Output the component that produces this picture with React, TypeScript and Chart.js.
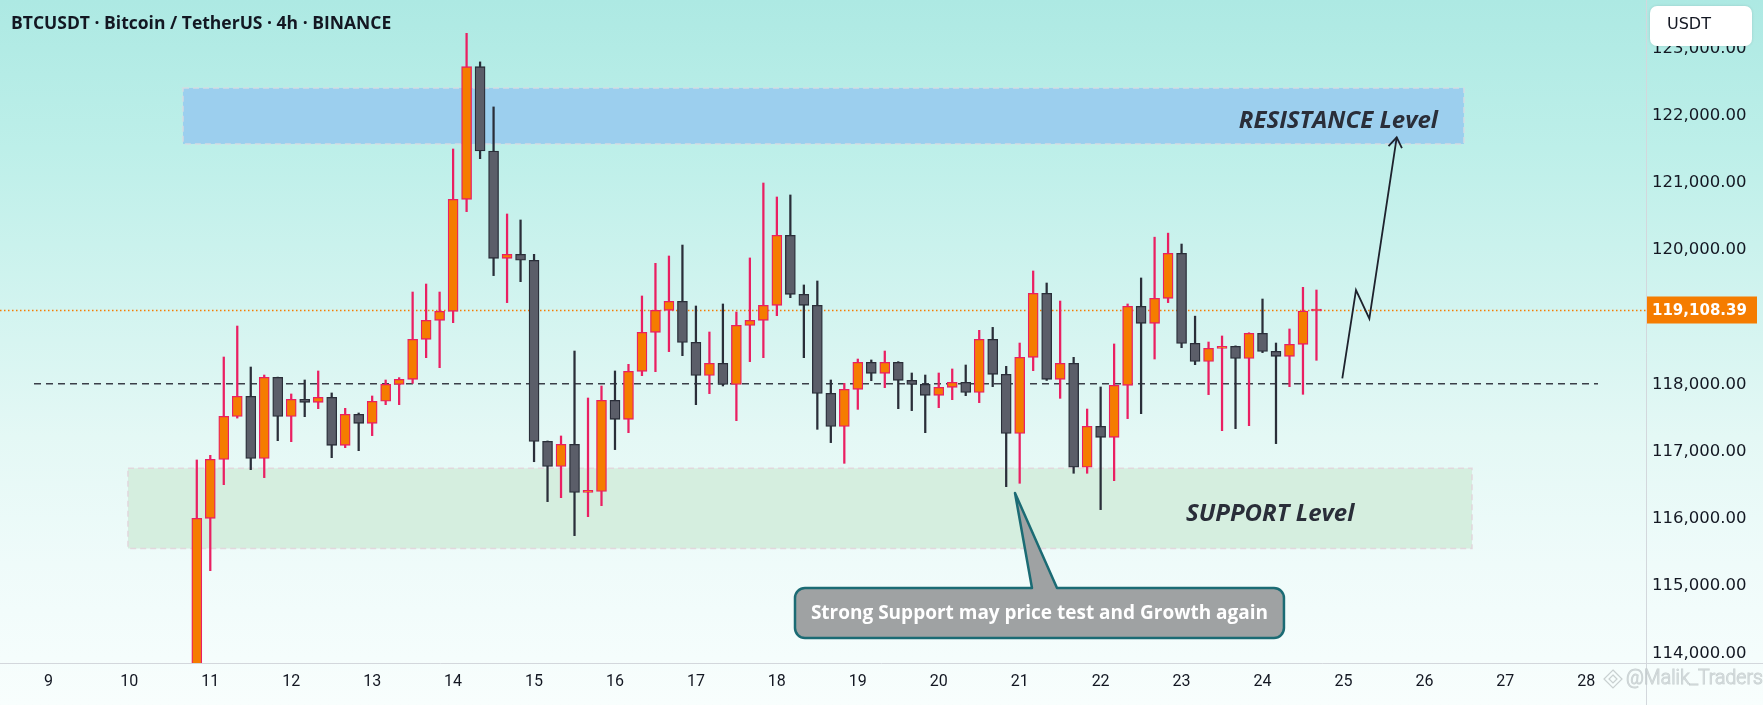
import React, { useEffect, useRef } from 'react';
import { Chart, registerables } from 'chart.js';

Chart.register(...registerables);

// ---- candle timing (4h candles starting 10th 20:00) ----
const START_DAY = 10;
const START_HOUR = 20;
const STEP_HOURS = 4;

// ---- OHLC values (USDT) ----
const opens = [
  113400, 116009, 116886, 117526, 117824, 116901, 118107, 117526, 117779, 117735,
  117809, 117095, 117556, 117422, 117750, 118002, 118077, 118672, 118955, 119089,
  120755, 122729, 121474, 119877, 119937, 119848, 117154, 116780, 117110, 116395,
  116410, 117764, 117482, 118196, 118776, 119104, 119238, 118627, 118136, 118315,
  118002, 118880, 118955, 119178, 120220, 119342, 119178, 117868, 117377, 117928,
  118330, 118166, 118330, 118062, 118002, 117839, 117958, 118032, 117883, 118672,
  118151, 117273, 118404, 119357, 118077, 118315, 116768, 117378, 117214, 117988,
  119163, 118910, 119282, 119951, 118612, 118344, 118538, 118568, 118389, 118761,
  118493, 118419, 118598, 119094,
];
const highs = [
  116877, 116946, 118409, 118870, 118260, 118141, 118110, 117859, 118067, 118201,
  117874, 117645, 117576, 117829, 118067, 118102, 119376, 119495, 119376, 121504,
  123225, 122800, 122130, 120537, 120448, 119937, 117160, 117234, 118498, 117799,
  117978, 118201, 118300, 119317, 119803, 119912, 120075, 119168, 118781, 119198,
  119079, 119883, 120998, 120790, 120820, 119481, 119540, 118067, 118017, 118379,
  118365, 118498, 118340, 118171, 118141, 118171, 118231, 118290, 118806, 118850,
  118270, 118617, 119689, 119510, 119242, 118404, 117635, 117963, 118603, 119198,
  119585, 120192, 120252, 120090, 119017, 118632, 118722, 118575, 118770, 119272,
  118617, 118826, 119446, 119406,
];
const lows = [
  113300, 115230, 116509, 117500, 116733, 116614, 117164, 117149, 117521, 117640,
  116911, 117060, 117015, 117239, 117700, 117700, 118017, 118399, 118250, 118920,
  120572, 121360, 119620, 119218, 119530, 116851, 116257, 116316, 115751, 116033,
  116197, 117031, 117283, 118131, 118191, 118489, 118429, 117700, 117864, 117978,
  117462, 118340, 118399, 119024, 119292, 118399, 117333, 117135, 116827, 117630,
  118057, 117953, 117640, 117611, 117283, 117655, 117774, 117834, 117730, 117968,
  116480, 116530, 118206, 118060, 117794, 116679, 116679, 116138, 116569, 117492,
  117566, 118379, 119218, 118548, 118295, 117849, 117313, 117343, 117387, 118474,
  117120, 117968, 117854, 118360,
];
const closes = [
  116009, 116886, 117526, 117824, 116901, 118107, 117526, 117779, 117735, 117809,
  117095, 117556, 117422, 117750, 118002, 118077, 118672, 118955, 119089, 120755,
  122729, 121474, 119877, 119937, 119848, 117154, 116780, 117110, 116395, 116410,
  117764, 117482, 118196, 118776, 119104, 119238, 118627, 118136, 118315, 118002,
  118880, 118955, 119178, 120220, 119342, 119178, 117868, 117377, 117928, 118330,
  118166, 118330, 118062, 118002, 117839, 117958, 118032, 117883, 118672, 118151,
  117273, 118404, 119357, 118077, 118315, 116768, 117378, 117214, 117988, 119163,
  118910, 119282, 119951, 118612, 118344, 118538, 118560, 118389, 118761, 118493,
  118419, 118598, 119094, 119108.39,
];

// ---- axes ----
const dayTicks = [9, 10, 11, 12, 13, 14, 15, 16, 17, 18, 19, 20, 21, 22, 23, 24, 25, 26, 27, 28];
const priceTicks = [114000, 115000, 116000, 117000, 118000, 120000, 121000, 122000, 123000];
const xRange = [8.402, 28.738];
const yRange = [113856, 123721];
const lastPrice = 119108.39;

// ---- annotations (time in days, price in USDT) ----
const resistanceZone = [10.663, 26.489, 121579, 122412];
const supportZone = [9.983, 26.588, 115560, 116753];
const pivotLine = [8.822, 28.145, 118010];
const arrowTimes = [24.986, 25.155, 25.32, 25.658];
const arrowPrices = [118092, 119406, 118979, 121678];
const calloutBox = [18.224, 24.265, 114228, 114972];
const calloutPointer = [21.152, 21.461, 20.942, 116386];
const resistanceLabelAt = [26.168, 121812];
const supportLabelAt = [23.055, 115969];

const TITLE = 'BTCUSDT · Bitcoin / TetherUS · 4h · BINANCE';
const CALLOUT_TEXT = 'Strong Support may price test and Growth again';

const BULL_FILL = '#f57c00';
const BULL_LINE = '#ea1f62';
const BEAR_FILL = '#5b5e69';
const BEAR_LINE = '#2a2e39';

const times = opens.map((_, i) => START_DAY + (START_HOUR + i * STEP_HOURS) / 24);
const isBull = opens.map((o, i) => closes[i] >= o);

const fmtPrice = (v: number) =>
  v.toLocaleString('en-US', { minimumFractionDigits: 2, maximumFractionDigits: 2 });

function roundRect(ctx: CanvasRenderingContext2D, x: number, y: number, w: number, h: number, r: number) {
  ctx.beginPath();
  ctx.moveTo(x + r, y);
  ctx.lineTo(x + w - r, y);
  ctx.arcTo(x + w, y, x + w, y + r, r);
  ctx.lineTo(x + w, y + h - r);
  ctx.arcTo(x + w, y + h, x + w - r, y + h, r);
  ctx.lineTo(x + r, y + h);
  ctx.arcTo(x, y + h, x, y + h - r, r);
  ctx.lineTo(x, y + r);
  ctx.arcTo(x, y, x + r, y, r);
  ctx.closePath();
}

const overlayPlugin = {
  id: 'overlay',
  beforeDraw(chart: any) {
    const { ctx, width, height } = chart;
    const g = ctx.createLinearGradient(0, 0, 0, height);
    g.addColorStop(0, '#ade9e3');
    g.addColorStop(0.21, '#bdefe9');
    g.addColorStop(0.62, '#e4f8f5');
    g.addColorStop(0.8, '#effbfa');
    g.addColorStop(1, '#f8fefd');
    ctx.save();
    ctx.fillStyle = g;
    ctx.fillRect(0, 0, width, height);
    ctx.restore();
  },
  beforeDatasetsDraw(chart: any) {
    const { ctx, chartArea } = chart;
    const xs = chart.scales.x;
    const ys = chart.scales.y;
    const X = (t: number) => xs.getPixelForValue(t);
    const Y = (p: number) => ys.getPixelForValue(p);
    ctx.save();
    // resistance zone
    {
      const [t0, t1, p0, p1] = resistanceZone;
      const x = X(t0), w = X(t1) - x, y = Y(p1), h = Y(p0) - y;
      ctx.fillStyle = '#9ccfee';
      ctx.fillRect(x, y, w, h);
      ctx.setLineDash([6, 4]);
      ctx.lineWidth = 1.5;
      ctx.strokeStyle = 'rgba(214,218,226,0.95)';
      ctx.strokeRect(x, y, w, h);
    }
    // support zone
    {
      const [t0, t1, p0, p1] = supportZone;
      const x = X(t0), w = X(t1) - x, y = Y(p1), h = Y(p0) - y;
      ctx.fillStyle = '#d5eedf';
      ctx.fillRect(x, y, w, h);
      ctx.setLineDash([6, 4]);
      ctx.lineWidth = 1.5;
      ctx.strokeStyle = 'rgba(226,212,218,0.9)';
      ctx.strokeRect(x, y, w, h);
    }
    // pivot dashed line
    {
      const [t0, t1, p] = pivotLine;
      ctx.setLineDash([7, 5]);
      ctx.lineWidth = 1.5;
      ctx.strokeStyle = '#3b3f49';
      ctx.beginPath();
      ctx.moveTo(X(t0), Y(p));
      ctx.lineTo(X(t1), Y(p));
      ctx.stroke();
    }
    // last price dotted line
    ctx.setLineDash([1.5, 2.5]);
    ctx.lineWidth = 1.3;
    ctx.strokeStyle = '#f57c00';
    ctx.beginPath();
    ctx.moveTo(chartArea.left, Math.round(Y(lastPrice)) + 0.5);
    ctx.lineTo(chartArea.right, Math.round(Y(lastPrice)) + 0.5);
    ctx.stroke();
    ctx.restore();
  },
  afterDraw(chart: any) {
    const { ctx, chartArea, width, height } = chart;
    const xs = chart.scales.x;
    const ys = chart.scales.y;
    const X = (t: number) => xs.getPixelForValue(t);
    const Y = (p: number) => ys.getPixelForValue(p);
    ctx.save();

    // axis borders
    ctx.strokeStyle = '#d3d7dc';
    ctx.lineWidth = 1;
    ctx.beginPath();
    ctx.moveTo(Math.round(chartArea.right) + 0.5, 0);
    ctx.lineTo(Math.round(chartArea.right) + 0.5, height);
    ctx.moveTo(0, Math.round(chartArea.bottom) + 0.5);
    ctx.lineTo(width, Math.round(chartArea.bottom) + 0.5);
    ctx.stroke();

    // zone labels
    ctx.fillStyle = '#2a2e39';
    ctx.font = 'italic bold 24px "Open Sans", sans-serif';
    ctx.textBaseline = 'alphabetic';
    ctx.textAlign = 'right';
    ctx.fillText('RESISTANCE Level', X(resistanceLabelAt[0]), Y(resistanceLabelAt[1]));
    ctx.textAlign = 'left';
    ctx.fillText('SUPPORT Level', X(supportLabelAt[0]), Y(supportLabelAt[1]));

    // callout
    {
      const [t0, t1, pb, pt] = calloutBox;
      const [bl, br, tt, tp] = calloutPointer;
      const l = X(t0), r = X(t1), top = Y(pt), b = Y(pb);
      const rad = 10;
      ctx.beginPath();
      ctx.moveTo(l + rad, top);
      ctx.lineTo(X(bl), top);
      ctx.lineTo(X(tt), Y(tp));
      ctx.lineTo(X(br), top);
      ctx.lineTo(r - rad, top);
      ctx.arcTo(r, top, r, top + rad, rad);
      ctx.lineTo(r, b - rad);
      ctx.arcTo(r, b, r - rad, b, rad);
      ctx.lineTo(l + rad, b);
      ctx.arcTo(l, b, l, b - rad, rad);
      ctx.lineTo(l, top + rad);
      ctx.arcTo(l, top, l + rad, top, rad);
      ctx.closePath();
      ctx.fillStyle = '#9fa2a3';
      ctx.fill();
      ctx.lineWidth = 2.5;
      ctx.lineJoin = 'round';
      ctx.strokeStyle = '#1b6b74';
      ctx.stroke();
      ctx.fillStyle = '#ffffff';
      ctx.font = 'bold 19px "Open Sans", sans-serif';
      ctx.textAlign = 'center';
      ctx.textBaseline = 'middle';
      ctx.fillText(CALLOUT_TEXT, (l + r) / 2, (top + b) / 2 + 1);
    }

    // projection arrow
    {
      ctx.strokeStyle = '#1e222d';
      ctx.lineWidth = 1.8;
      ctx.lineJoin = 'miter';
      ctx.beginPath();
      arrowTimes.forEach((t, i) => {
        const px = X(t), py = Y(arrowPrices[i]);
        if (i === 0) ctx.moveTo(px, py); else ctx.lineTo(px, py);
      });
      ctx.stroke();
      const n = arrowTimes.length;
      const tx = X(arrowTimes[n - 1]), ty = Y(arrowPrices[n - 1]);
      const fx = X(arrowTimes[n - 2]), fy = Y(arrowPrices[n - 2]);
      const ang = Math.atan2(fy - ty, fx - tx);
      const len = 12;
      ctx.beginPath();
      ctx.moveTo(tx + len * Math.cos(ang - 0.6), ty + len * Math.sin(ang - 0.6));
      ctx.lineTo(tx, ty);
      ctx.lineTo(tx + len * Math.cos(ang + 0.6), ty + len * Math.sin(ang + 0.6));
      ctx.stroke();
    }

    // last price label
    {
      const y = Y(lastPrice);
      const x0 = chartArea.right + 1;
      ctx.fillStyle = '#f57c00';
      ctx.fillRect(x0, y - 13.5, 110, 27);
      ctx.fillStyle = '#ffffff';
      ctx.font = 'bold 15px "DejaVu Sans", sans-serif';
      ctx.textAlign = 'left';
      ctx.textBaseline = 'middle';
      ctx.fillText(fmtPrice(lastPrice), chartArea.right + 6, y + 1);
    }

    // currency box
    {
      const bx = chartArea.right + 4;
      ctx.shadowColor = 'rgba(0,0,0,0.12)';
      ctx.shadowBlur = 3;
      roundRect(ctx, bx, 6, 102, 40, 7);
      ctx.fillStyle = '#ffffff';
      ctx.fill();
      ctx.shadowBlur = 0;
      ctx.shadowColor = 'transparent';
      ctx.fillStyle = '#131722';
      ctx.font = '16px "DejaVu Sans", sans-serif';
      ctx.textAlign = 'left';
      ctx.textBaseline = 'middle';
      ctx.fillText('USDT', bx + 17, 25);
    }

    // title
    ctx.fillStyle = '#131722';
    ctx.font = 'bold 17.5px "Open Sans", sans-serif';
    ctx.textAlign = 'left';
    ctx.textBaseline = 'alphabetic';
    ctx.fillText(TITLE, 11, 29);

    // watermark
    {
      ctx.globalAlpha = 0.6;
      ctx.strokeStyle = '#aab2b4';
      ctx.lineWidth = 1.2;
      const cx = 1613, cy = 679;
      ctx.beginPath();
      ctx.moveTo(cx, cy - 9); ctx.lineTo(cx + 9, cy); ctx.lineTo(cx, cy + 9); ctx.lineTo(cx - 9, cy); ctx.closePath();
      ctx.moveTo(cx, cy - 4); ctx.lineTo(cx + 4, cy); ctx.lineTo(cx, cy + 4); ctx.lineTo(cx - 4, cy); ctx.closePath();
      ctx.stroke();
      ctx.font = '300 19.5px Roboto, sans-serif';
      ctx.textAlign = 'left';
      ctx.textBaseline = 'middle';
      ctx.lineWidth = 1;
      ctx.strokeText('@Malik_Traders', 1626, 679);
      ctx.fillStyle = 'rgba(220,226,228,0.7)';
      ctx.fillText('@Malik_Traders', 1626, 679);
      ctx.globalAlpha = 1;
    }
    ctx.restore();
  },
};

export default function App() {
  const canvasRef = useRef<HTMLCanvasElement | null>(null);

  useEffect(() => {
    document.body.style.margin = '0';
    const canvas = canvasRef.current;
    if (!canvas) return;

    const wickData = times.map((t, i) => ({ x: t, y: [lows[i], highs[i]] }));
    const bodyData = times.map((t, i) => ({ x: t, y: [opens[i], closes[i]] }));

    const chart = new Chart(canvas, {
      type: 'bar',
      data: {
        datasets: [
          {
            label: 'wick',
            data: wickData as any,
            backgroundColor: isBull.map((b) => (b ? BULL_LINE : BEAR_LINE)),
            borderWidth: 0,
            barThickness: 1.6,
            grouped: false,
            order: 1,
          } as any,
          {
            label: 'body',
            data: bodyData as any,
            backgroundColor: isBull.map((b) => (b ? BULL_FILL : BEAR_FILL)),
            borderColor: isBull.map((b) => (b ? BULL_LINE : BEAR_LINE)),
            borderWidth: 1.3,
            borderSkipped: false,
            barThickness: 10,
            minBarLength: 2,
            grouped: false,
            order: 0,
          } as any,
        ],
      },
      options: {
        animation: false,
        responsive: true,
        maintainAspectRatio: false,
        events: [],
        layout: { padding: 0 },
        plugins: { legend: { display: false }, tooltip: { enabled: false } },
        scales: {
          x: {
            type: 'linear',
            min: xRange[0],
            max: xRange[1],
            offset: false,
            grid: { display: false, drawTicks: false },
            border: { display: false },
            afterBuildTicks: (s: any) => {
              s.ticks = dayTicks.map((v) => ({ value: v }));
            },
            afterFit: (s: any) => {
              s.height = 42;
              s.paddingLeft = 0;
              s.paddingRight = 0;
              s.paddingTop = 0;
              s.paddingBottom = 0;
            },
            ticks: {
              autoSkip: false,
              maxRotation: 0,
              padding: 9,
              color: '#131722',
              font: { family: 'Roboto', size: 16 },
              callback: (v: any) => String(v),
            },
          },
          y: {
            type: 'linear',
            position: 'right',
            min: yRange[0],
            max: yRange[1],
            grid: { display: false, drawTicks: false },
            border: { display: false },
            afterBuildTicks: (s: any) => {
              s.ticks = priceTicks.map((v) => ({ value: v }));
            },
            afterFit: (s: any) => {
              s.width = 117;
              s.paddingTop = 0;
              s.paddingBottom = 0;
              s.paddingLeft = 0;
              s.paddingRight = 0;
            },
            ticks: {
              padding: 6,
              color: '#131722',
              font: { family: 'DejaVu Sans', size: 16.5 },
              callback: (v: any) => fmtPrice(Number(v)),
            },
          },
        },
      } as any,
      plugins: [overlayPlugin],
    });

    return () => chart.destroy();
  }, []);

  return (
    <div style={{ position: 'fixed', left: 0, top: 0, width: 1763, height: 705 }}>
      <canvas ref={canvasRef} />
    </div>
  );
}
